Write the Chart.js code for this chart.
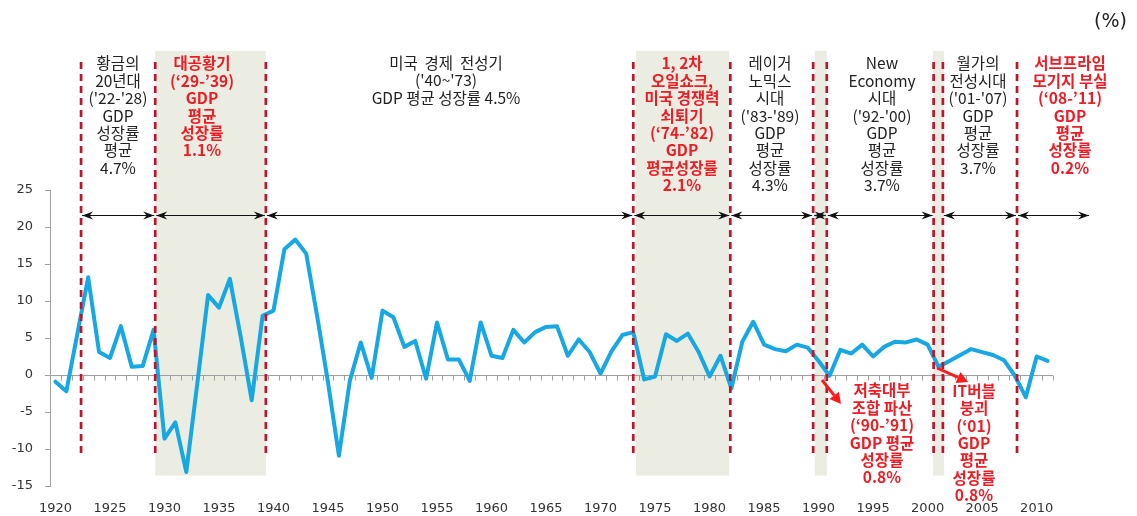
<!DOCTYPE html>
<html><head><meta charset="utf-8">
<script src="https://cdn.jsdelivr.net/npm/chart.js@4/dist/chart.umd.min.js"></script>
<style>html,body{margin:0;padding:0;background:#fff;}#wrap{width:1137px;height:516px;position:relative;}</style>
</head><body><div id="wrap"><canvas id="c" width="1137" height="516"></canvas></div>
<script>
const years = [1920,1921,1922,1923,1924,1925,1926,1927,1928,1929,1930,1931,1932,1933,1934,1935,1936,1937,1938,1939,
1940,1941,1942,1943,1944,1945,1946,1947,1948,1949,1950,1951,1952,1953,1954,1955,1956,1957,1958,1959,
1960,1961,1962,1963,1964,1965,1966,1967,1968,1969,1970,1971,1972,1973,1974,1975,1976,1977,1978,1979,
1980,1981,1982,1983,1984,1985,1986,1987,1988,1989,1990,1991,1992,1993,1994,1995,1996,1997,1998,1999,
2000,2001,2002,2003,2004,2005,2006,2007,2008,2009,2010,2011];
const gdpGrowth = [-0.9,-2.2,5.5,13.2,3.1,2.3,6.6,1.1,1.2,6.1,-8.6,-6.4,-13.1,-1.3,10.8,9.1,13.0,5.1,-3.4,8.0,
8.7,17.0,18.3,16.4,8.0,-1.0,-10.9,-0.8,4.4,-0.4,8.7,7.8,3.8,4.6,-0.5,7.1,2.1,2.1,-0.8,7.1,
2.6,2.3,6.1,4.4,5.8,6.5,6.6,2.6,4.8,3.1,0.2,3.2,5.4,5.8,-0.6,-0.2,5.5,4.6,5.6,3.1,
-0.2,2.6,-1.8,4.5,7.2,4.1,3.5,3.2,4.1,3.7,1.9,-0.1,3.4,2.9,4.1,2.5,3.8,4.5,4.4,4.8,
4.1,1.1,1.9,2.7,3.5,3.1,2.7,2.0,-0.1,-3.0,2.5,1.9];
const yTicks = [-15,-10,-5,0,5,10,15,20,25];
const periodLines = [1922.35,1929.15,1939.3,1973.0,1981.9,1989.5,1990.75,2000.55,2001.4,2008.2];
const shadedStart = [1929.15,1973.25,1989.65,2000.5];
const shadedEnd   = [1939.3,1981.8,1990.75,2001.5];
const arrowFrom = [1922.35,1929.15,1939.3,1973.0,1981.9,1989.5,1990.75,2001.4,2008.2];
const arrowTo   = [1929.15,1939.3,1973.0,1981.9,1989.5,1990.75,2000.55,2008.2,2014.9];
const periodTexts = [
  ['황금의','20년대',"('22-'28)",'GDP','성장률','평균','4.7%'],
  ['대공황기','(‘29-’39)','GDP','평균','성장률','1.1%'],
  ['미국  경제  전성기',"('40~'73)",'GDP 평균 성장률 4.5%'],
  ['1, 2차','오일쇼크,','미국 경쟁력','쇠퇴기','(‘74-’82)','GDP','평균성장률','2.1%'],
  ['레이거','노믹스','시대',"('83-'89)",'GDP','평균','성장률','4.3%'],
  ['New','Economy','시대',"('92-'00)",'GDP','평균','성장률','3.7%'],
  ['월가의','전성시대',"('01-'07)",'GDP','평균','성장률','3.7%'],
  ['서브프라임','모기지 부실','(‘08-’11)','GDP','평균','성장률','0.2%'],
  ['저축대부','조합 파산','(‘90-’91)','GDP 평균','성장률','0.8%'],
  ['IT버블','붕괴','(‘01)','GDP','평균','성장률','0.8%']
];
const periodTextRed = [false,true,false,true,false,false,false,true,true,true];
</script>
<script>
const textLayout = [
  {x:118,y:63.5},{x:202,y:63.5},{x:446,y:63},{x:682,y:63.5},{x:770,y:63.5},
  {x:882,y:63.5},{x:978,y:63.5},{x:1070,y:63.5},{x:882,y:390.5},{x:974,y:391}
];
const RED='#EE1C25', DARK='#222', DASH='#C0142B', BAND='#EBEDE2', AXIS='#A0A0A0';
const years2idx = v => v - years[0];

function head(ctx, x, y, dir){
  // filled stealth arrowhead, dir = -1 pointing left, +1 pointing right
  ctx.beginPath();
  ctx.moveTo(x, y);
  ctx.lineTo(x - dir*11, y - 4);
  ctx.lineTo(x - dir*7.5, y);
  ctx.lineTo(x - dir*11, y + 4);
  ctx.closePath();
  ctx.fill();
}

const overlay = {
  id:'overlay',
  beforeDatasetsDraw(chart){
    const {ctx, scales:{x,y}, chartArea:a} = chart;
    ctx.save();
    ctx.fillStyle = BAND;
    const yt = y.getPixelForValue(43.8), yb = y.getPixelForValue(-13.6);
    for(let i=0;i<shadedStart.length;i++){
      const x1 = x.getPixelForValue(years2idx(shadedStart[i]));
      const x2 = x.getPixelForValue(years2idx(shadedEnd[i]));
      ctx.fillRect(x1, yt, x2-x1, yb-yt);
    }
    const y0 = Math.round(y.getPixelForValue(0))+0.5;
    ctx.strokeStyle = AXIS; ctx.lineWidth = 1;
    ctx.beginPath(); ctx.moveTo(a.left, y0); ctx.lineTo(a.right, y0); ctx.stroke();
    ctx.beginPath();
    for(let i=0;i<=years.length;i++){
      const px = Math.round(x.getPixelForValue(i-0.5))+0.5;
      ctx.moveTo(px, y0); ctx.lineTo(px, y0+5);
    }
    ctx.stroke();
    ctx.restore();
  },
  afterDatasetsDraw(chart){
    const {ctx, scales:{x,y}} = chart;
    ctx.save();
    ctx.strokeStyle = DASH; ctx.lineWidth = 2.7; ctx.setLineDash([7,5]);
    const dt = y.getPixelForValue(42.3), db = y.getPixelForValue(-11);
    periodLines.forEach(v=>{
      const px = x.getPixelForValue(years2idx(v));
      ctx.beginPath(); ctx.moveTo(px, dt); ctx.lineTo(px, db); ctx.stroke();
    });
    ctx.setLineDash([]);
    const ay = Math.round(y.getPixelForValue(21.6))+0.5;
    ctx.strokeStyle = '#111'; ctx.fillStyle = '#111'; ctx.lineWidth = 1.2;
    for(let i=0;i<arrowFrom.length;i++){
      const x1 = x.getPixelForValue(years2idx(arrowFrom[i]))+1;
      const x2 = x.getPixelForValue(years2idx(arrowTo[i]))-1;
      ctx.beginPath(); ctx.moveTo(x1, ay); ctx.lineTo(x2, ay); ctx.stroke();
      head(ctx, x1, ay, -1); head(ctx, x2, ay, 1);
    }
    const redArrow = (x1,y1,x2,y2)=>{
      const ang = Math.atan2(y2-y1, x2-x1);
      const hl = 11, hw = 6;
      const bx = x2 - hl*Math.cos(ang), by = y2 - hl*Math.sin(ang);
      ctx.strokeStyle = '#FF1A1A'; ctx.fillStyle='#FF1A1A'; ctx.lineWidth = 3;
      ctx.beginPath(); ctx.moveTo(x1,y1); ctx.lineTo(bx,by); ctx.stroke();
      ctx.beginPath(); ctx.moveTo(x2,y2);
      ctx.lineTo(bx + hw*Math.sin(ang), by - hw*Math.cos(ang));
      ctx.lineTo(bx - hw*Math.sin(ang), by + hw*Math.cos(ang));
      ctx.closePath(); ctx.fill();
    };
    redArrow(822,380,841,404);
    redArrow(937,368,968,382);
    ctx.textAlign='center'; ctx.textBaseline='middle';
    periodTexts.forEach((lines,i)=>{
      const red = periodTextRed[i];
      ctx.font = (red?'bold ':'') + '15.5px "Noto Sans CJK KR", sans-serif';
      ctx.fillStyle = red?RED:DARK;
      const L = textLayout[i];
      lines.forEach((t,j)=> ctx.fillText(t, L.x, L.y + j*17.4));
    });
    ctx.font = '19px "DejaVu Sans", sans-serif';
    ctx.fillStyle = '#222'; ctx.textAlign='right';
    ctx.fillText('(%)', 1127, 22);
    ctx.restore();
  }
};

new Chart(document.getElementById('c'), {
  type:'line',
  data:{ labels: years, datasets:[{ data: gdpGrowth, borderColor:'#17A7E3', borderWidth:4,
    pointRadius:0, tension:0, fill:false, borderJoinStyle:'round', borderCapStyle:'round' }]},
  options:{
    responsive:false, animation:false, devicePixelRatio:1,
    layout:{ padding:{ top:190, right:84, bottom:0, left:0 } },
    plugins:{ legend:{display:false}, tooltip:{enabled:false} },
    scales:{
      x:{ type:'category', offset:true,
        grid:{display:false, drawTicks:false}, border:{display:false},
        ticks:{ autoSkip:false, maxRotation:0, padding:15, color:'#333',
          font:{family:'"DejaVu Sans"', size:13},
          callback:(v,i)=> years[i]%5===0 ? String(years[i]) : '' },
        afterFit:s=>{ s.height = 30; } },
      y:{ min:-15, max:25,
        afterBuildTicks:s=>{ s.ticks = yTicks.map(v=>({value:v})); },
        grid:{ drawOnChartArea:false, drawTicks:true, tickLength:5, color:AXIS },
        border:{ display:true, color:AXIS, width:1 },
        ticks:{ padding:12, color:'#333', font:{family:'"DejaVu Sans"', size:13} },
        afterFit:s=>{ s.width = 50; } }
    }
  },
  plugins:[overlay]
});
</script>
</body></html>
